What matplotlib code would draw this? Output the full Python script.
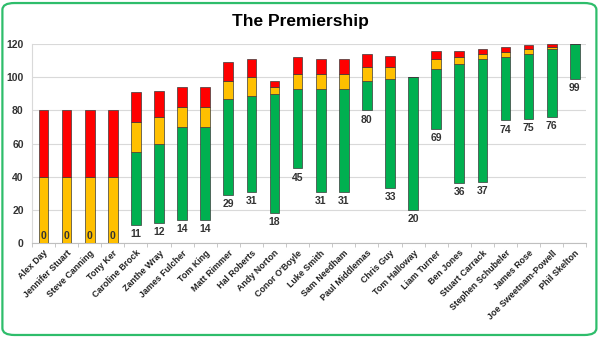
import matplotlib
matplotlib.use("Agg")
import matplotlib.pyplot as plt
from matplotlib.patches import FancyBboxPatch
import numpy as np

plt.rcParams['font.family'] = ['Liberation Sans', 'DejaVu Sans']

names = ["Alex Day", "Jennifer Stuart", "Steve Canning", "Tony Ker", "Caroline Brock",
         "Zanthe Wray", "James Fulcher", "Tom King", "Matt Rimmer", "Hal Roberts",
         "Andy Norton", "Conor O'Boyle", "Luke Smith", "Sam Needham", "Paul Middlemas",
         "Chris Guy", "Tom Halloway", "Liam Turner", "Ben Jones", "Stuart Carrack",
         "Stephen Schubeler", "James Rose", "Joe Sweetnam-Powell", "Phil Skelton"]
base = [0, 0, 0, 0, 11, 12, 14, 14, 29, 31, 18, 45, 31, 31, 80, 33, 20, 69, 36, 37, 74, 75, 76, 99]
green_top = [0, 0, 0, 0, 55, 60, 70, 70, 87, 89, 90, 93, 93, 93, 98, 99, 100, 105, 108, 111, 112, 114, 117, 120]
yellow_top = [40, 40, 40, 40, 73, 76, 82, 82, 98, 100, 94, 102, 102, 102, 106, 106, 100, 111, 112, 114, 115, 117, 118.5, 120]
red_top = [80, 80, 80, 80, 91, 92, 94, 94, 109, 111, 98, 112, 111, 111, 114, 113, 100, 116, 116, 117, 118, 119.5, 120, 120]

b = np.array(base, float)
g = np.array(green_top, float)
y = np.array(yellow_top, float)
r = np.array(red_top, float)
g_bottom = b
g_len = np.where(g > b, g - b, 0)
y_bottom = np.maximum(g, b)
y_len = y - y_bottom
r_len = r - y

fig = plt.figure(figsize=(6, 3.37), dpi=100)
border = FancyBboxPatch((0.004, 0.006), 0.99, 0.985, boxstyle="round,pad=0,rounding_size=0.02",
                        transform=fig.transFigure, facecolor="white", edgecolor="#2EBD6B",
                        linewidth=1.6, zorder=-10)
fig.patches.append(border)

ax = fig.add_axes([0.0533, 0.279, 0.924, 0.590])
ax.set_facecolor("none")
x = np.arange(len(names))
w = 0.42
ec = "#3a3a3a"
ax.bar(x, g_len, w, bottom=g_bottom, color="#00B050", edgecolor=ec, linewidth=0.5, zorder=3)
ax.bar(x, y_len, w, bottom=y_bottom, color="#FFC000", edgecolor=ec, linewidth=0.5, zorder=3)
ax.bar(x, r_len, w, bottom=y, color="#FF0000", edgecolor=ec, linewidth=0.5, zorder=3)

for xi, bi in zip(x, base):
    if bi == 0:
        ax.annotate(f"{bi}", (xi, 0), xytext=(0, 1.5), textcoords="offset points",
                    ha="center", va="bottom", fontsize=7.5, fontweight="bold", color="#333333", zorder=4)
    else:
        ax.annotate(f"{bi}", (xi, bi), xytext=(0, -3), textcoords="offset points",
                    ha="center", va="top", fontsize=7.5, fontweight="bold", color="#333333", zorder=4)

ax.set_xlim(-0.5, len(names) - 0.5)
ax.set_ylim(0, 120)
ax.set_yticks(range(0, 121, 20))
ax.yaxis.grid(True, color="#D9D9D9", linewidth=0.8, zorder=0)
ax.set_axisbelow(True)
for s in ["top", "right"]:
    ax.spines[s].set_visible(False)
ax.spines["left"].set_color("#D9D9D9")
ax.spines["bottom"].set_color("#BFBFBF")
ax.tick_params(axis="y", length=0, labelsize=7.5, labelcolor="#333333", pad=6)
for lab in ax.get_yticklabels():
    lab.set_fontweight("bold")
ax.set_xticks(x)
ax.set_xticklabels(names, rotation=45, ha="right", rotation_mode="anchor",
                   fontsize=6.4, fontweight="bold", color="#222222")
ax.tick_params(axis="x", which="major", length=0, pad=4)
ax.set_xticks(np.arange(-0.5, len(names) + 0.5, 1), minor=True)
ax.tick_params(axis="x", which="minor", length=3, color="#BFBFBF")

fig.text(0.5, 0.935, "The Premiership", ha="center", va="center", fontsize=12.5, fontweight="bold")

fig.savefig("out.png", dpi=100)
